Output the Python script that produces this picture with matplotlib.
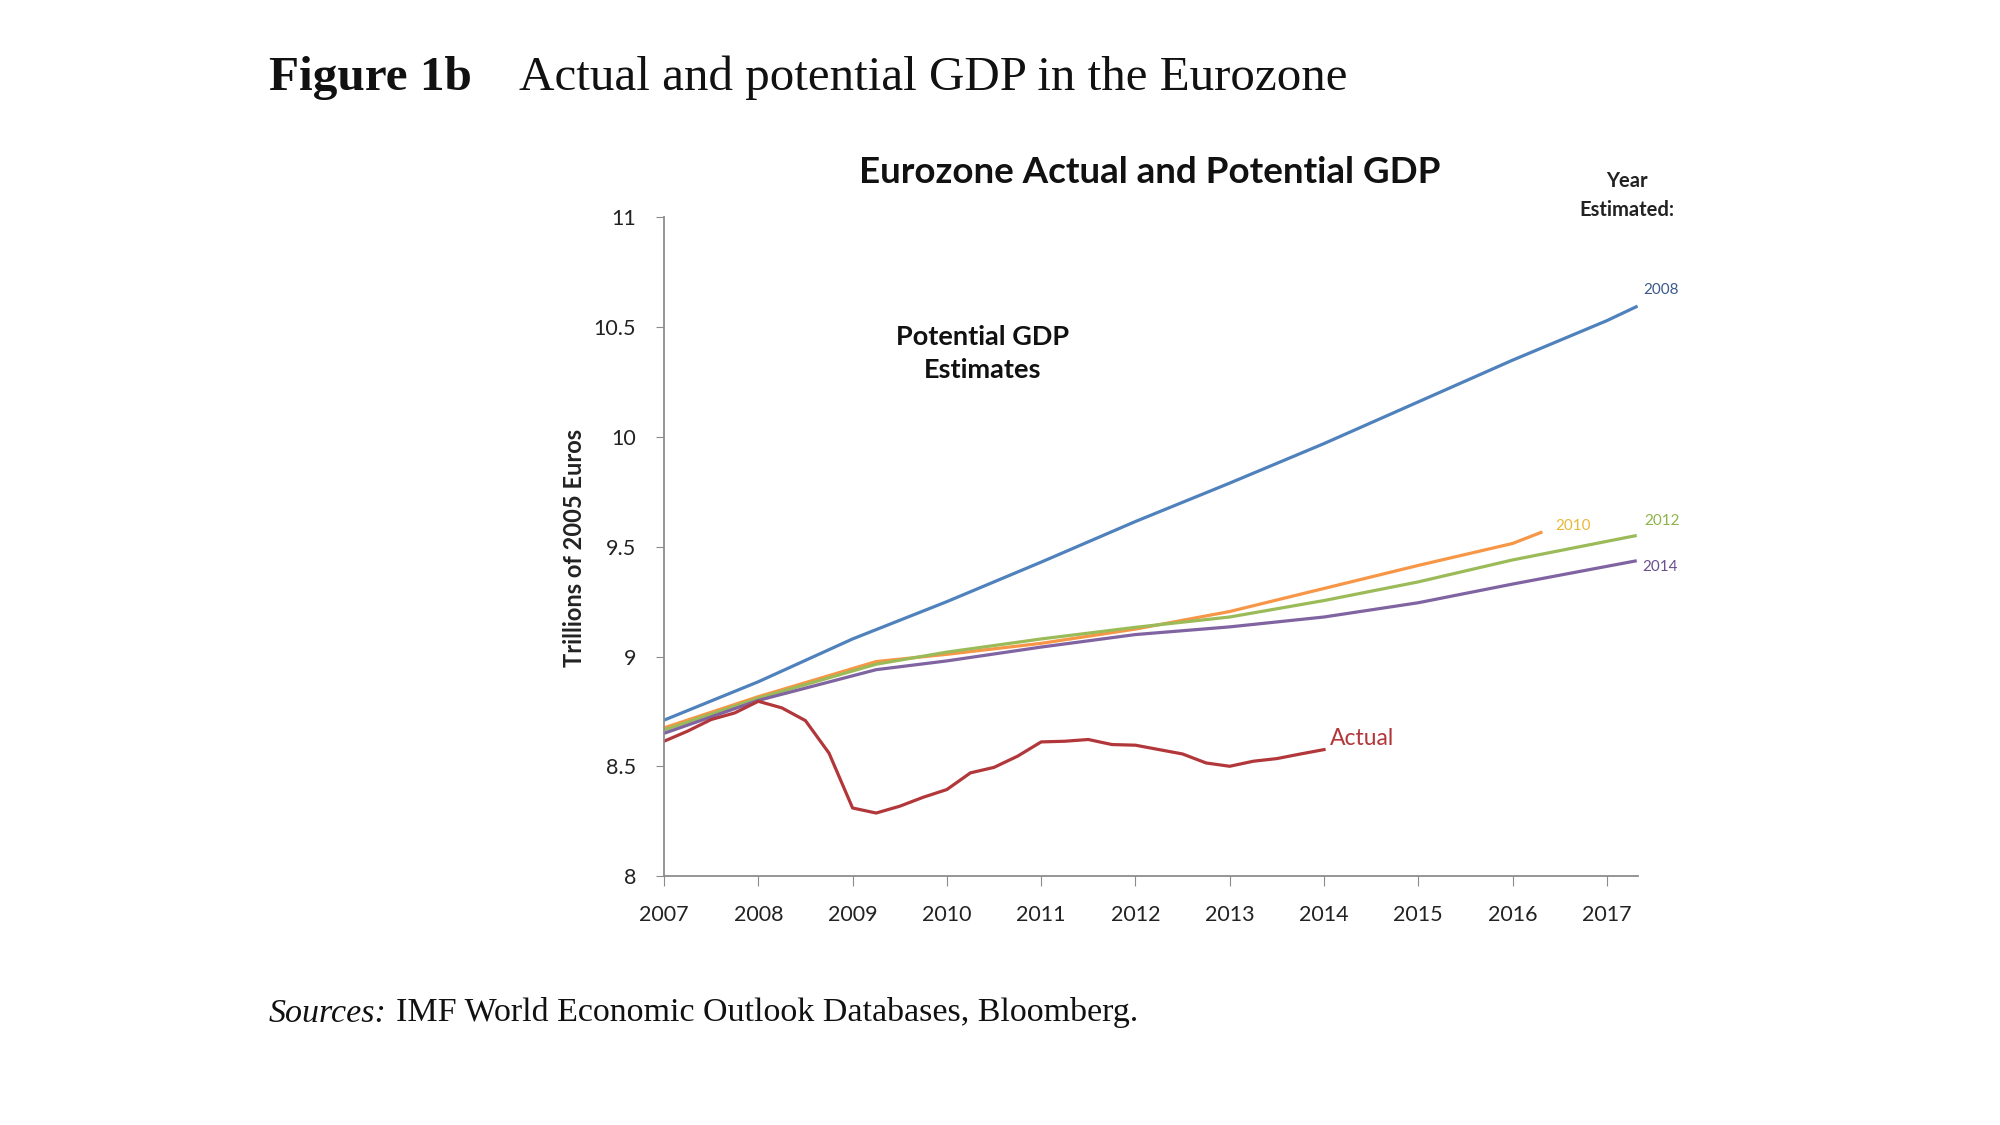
import matplotlib
matplotlib.use("Agg")
import matplotlib.pyplot as plt
import matplotlib.transforms as mtransforms

# ---- data ----
actual_x = [2007.00, 2007.25, 2007.50, 2007.75, 2008.00, 2008.25, 2008.50, 2008.75,
            2009.00, 2009.25, 2009.50, 2009.75, 2010.00, 2010.25, 2010.50, 2010.75,
            2011.00, 2011.25, 2011.50, 2011.75, 2012.00, 2012.25, 2012.50, 2012.75,
            2013.00, 2013.25, 2013.50, 2013.75, 2014.00]
actual_y = [8.614, 8.660, 8.713, 8.743, 8.796, 8.766, 8.708, 8.560,
            8.310, 8.287, 8.318, 8.359, 8.394, 8.470, 8.495, 8.546,
            8.611, 8.614, 8.622, 8.599, 8.596, 8.576, 8.556, 8.515,
            8.500, 8.523, 8.535, 8.556, 8.576]

est2008_x = [2007, 2008, 2009, 2010, 2011, 2012, 2013, 2014, 2015, 2016, 2017, 2017.31]
est2008_y = [8.71, 8.885, 9.08, 9.25, 9.43, 9.615, 9.79, 9.97, 10.16, 10.35, 10.53, 10.593]

est2010_x = [2007, 2008, 2009.25, 2010, 2011, 2012, 2013, 2014, 2015, 2016, 2016.3]
est2010_y = [8.675, 8.817, 8.977, 9.01, 9.06, 9.125, 9.205, 9.31, 9.415, 9.515, 9.565]

est2012_x = [2007, 2008, 2009.25, 2010, 2011, 2012, 2013, 2014, 2015, 2016, 2017.3]
est2012_y = [8.665, 8.81, 8.965, 9.02, 9.08, 9.133, 9.18, 9.255, 9.34, 9.44, 9.55]

est2014_x = [2007, 2008, 2009.25, 2010, 2011, 2012, 2013, 2014, 2015, 2016, 2017.3]
est2014_y = [8.65, 8.80, 8.94, 8.98, 9.043, 9.10, 9.135, 9.18, 9.245, 9.33, 9.435]

year_ticks = [2007, 2008, 2009, 2010, 2011, 2012, 2013, 2014, 2015, 2016, 2017]
y_ticks = [8, 8.5, 9, 9.5, 10, 10.5, 11]
y_tick_labels = ["8", "8.5", "9", "9.5", "10", "10.5", "11"]

# ---- styling ----
SANS = ["Lato", "DejaVu Sans"]
SERIF = ["Liberation Serif", "DejaVu Serif"]
BLUE, ORANGE, GREEN, PURPLE, RED = "#4F81BD", "#F79646", "#9BBB59", "#8064A2", "#B2373A"

fig = plt.figure(figsize=(20, 11.25), dpi=100)
fig.patch.set_facecolor("white")
ax = fig.add_axes([0.332, 0.2213, 0.819 - 0.332, 0.8067 - 0.2213])

lw = 2.3
ax.plot(est2008_x, est2008_y, color=BLUE, lw=lw)
ax.plot(est2010_x, est2010_y, color=ORANGE, lw=lw)
ax.plot(est2012_x, est2012_y, color=GREEN, lw=lw)
ax.plot(est2014_x, est2014_y, color=PURPLE, lw=lw)
ax.plot(actual_x, actual_y, color=RED, lw=lw)

ax.set_xlim(2007, 2017.33)
ax.set_ylim(8, 11)
ax.set_xticks(year_ticks)
ax.set_xticklabels([str(y) for y in year_ticks], family=SANS, fontsize=15.5, color="#222222")
ax.set_yticks(y_ticks)
ax.set_yticklabels(y_tick_labels, family=SANS, fontsize=15.5, color="#222222")
offset = mtransforms.ScaledTranslation(5 / 100, 0, fig.dpi_scale_trans)
for lab in ax.get_xticklabels():
    lab.set_transform(lab.get_transform() + offset)
for s in ["top", "right"]:
    ax.spines[s].set_visible(False)
for s in ["left", "bottom"]:
    ax.spines[s].set_color("#8C8C8C")
    ax.spines[s].set_linewidth(1.3)
ax.tick_params(axis="x", direction="out", length=7, color="#8C8C8C", pad=14)
ax.tick_params(axis="y", direction="out", length=6, color="#8C8C8C", pad=14)

# axis label
fig.text(0.2874, 0.513, "Trillions of 2005 Euros", rotation=90, ha="center", va="center",
         family=SANS, fontweight="bold", fontsize=17, color="#222222")

# in-chart annotations
ax.text(2010.38, 10.38, "Potential GDP\nEstimates", ha="center", va="center", family=SANS,
        fontweight="bold", fontsize=19.5, linespacing=1.45, color="#111111")
ax.text(2017.57, 10.67, "2008", ha="center", va="center", family=SANS, fontsize=11, color="#3A5A8C")
ax.text(2016.64, 9.593, "2010", ha="center", va="center", family=SANS, fontsize=11, color="#E8B838")
ax.text(2017.59, 9.616, "2012", ha="center", va="center", family=SANS, fontsize=11, color="#8DB44A")
ax.text(2017.56, 9.407, "2014", ha="center", va="center", family=SANS, fontsize=11, color="#6A4E8F")
ax.text(2014.40, 8.628, "Actual", ha="center", va="center", family=SANS, fontsize=16.5, color=RED)

# titles
fig.text(0.1344, 0.920, "Figure 1b", ha="left", va="baseline", family=SERIF, fontweight="bold",
         fontsize=35.5, color="#111111")
fig.text(0.2595, 0.920, "Actual and potential GDP in the Eurozone", ha="left", va="baseline",
         family=SERIF, fontsize=35.3, color="#111111")
fig.text(0.575, 0.847, "Eurozone Actual and Potential GDP", ha="center", va="center", family=SANS,
         fontweight="bold", fontsize=26.5, color="#111111")
fig.text(0.8135, 0.826, "Year\nEstimated:", ha="center", va="center", family=SANS,
         fontweight="bold", fontsize=14.5, linespacing=1.55, color="#222222")

# sources
t1 = fig.text(0.1344, 0.092, "Sources:", ha="left", va="baseline", family=SERIF, style="italic",
              fontsize=24.5, color="#111111")
fig.canvas.draw()
bb = t1.get_window_extent()
x_next = (bb.x1 + 9) / fig.bbox.width
fig.text(x_next, 0.092, "IMF World Economic Outlook Databases, Bloomberg.", ha="left",
         va="baseline", family=SERIF, fontsize=24.5, color="#111111")

fig.savefig("out.png", dpi=100, facecolor="white")
